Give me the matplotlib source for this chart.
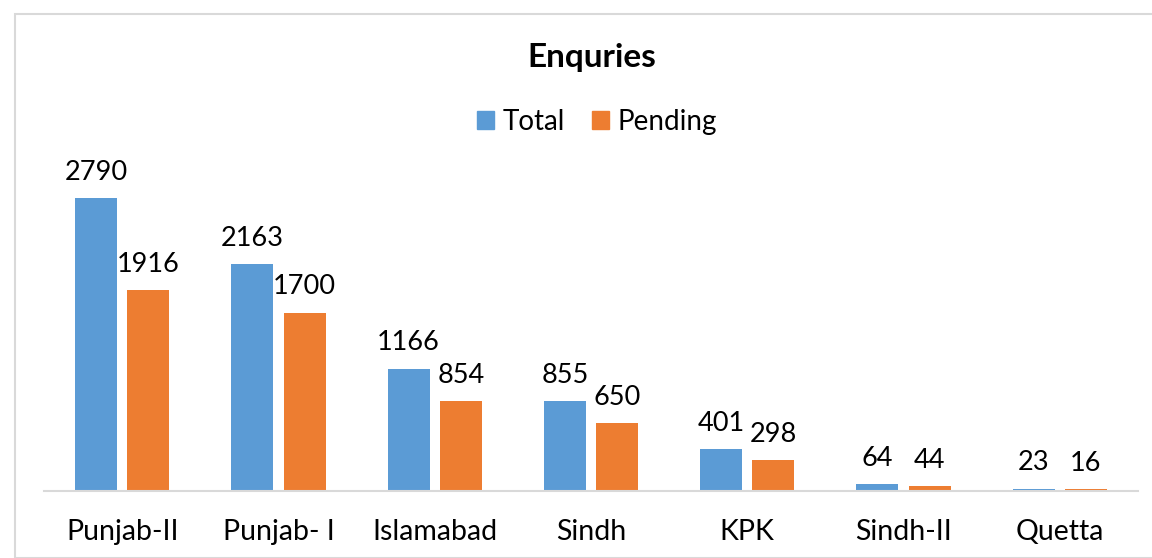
import matplotlib
matplotlib.use("Agg")
import matplotlib.pyplot as plt
from matplotlib.patches import Rectangle, Patch
import numpy as np

categories = ["Punjab-II", "Punjab- I", "Islamabad", "Sindh", "KPK", "Sindh-II", "Quetta"]
total = [2790, 2163, 1166, 855, 401, 64, 23]
pending = [1916, 1700, 854, 650, 298, 44, 16]

plt.rcParams['font.family'] = ['Lato', 'DejaVu Sans']

W, H = 1152, 558
fig = plt.figure(figsize=(W/100, H/100), dpi=100)

# chart border
fig.patches.append(Rectangle((15/W, 0), 1.2, 1 - 14/H, transform=fig.transFigure,
                             fill=False, edgecolor='#D9D9D9', linewidth=1.5))

ax = fig.add_axes([44/W, (H-491)/H, (1138-44)/W, (491-100)/H])
x = np.arange(len(categories))
bw = 0.269
off = 0.167
blue, orange = '#5B9BD5', '#ED7D31'
b1 = ax.bar(x - off, total, bw, color=blue, label='Total')
b2 = ax.bar(x + off, pending, bw, color=orange, label='Pending')
ax.set_xlim(-0.5, len(categories) - 0.5)
ax.set_ylim(0, 391/0.105)

for bars, vals in ((b1, total), (b2, pending)):
    for r, v in zip(bars, vals):
        ax.annotate(str(v), (r.get_x() + r.get_width()/2, v), xytext=(0, 9.5),
                    textcoords='offset points', ha='center', va='bottom', fontsize=19.5)

for s in ('top', 'right', 'left'):
    ax.spines[s].set_visible(False)
ax.spines['bottom'].set_color('#D9D9D9')
ax.spines['bottom'].set_linewidth(1.5)
ax.set_yticks([])
ax.set_xticks(x)
ax.set_xticklabels(categories, fontsize=20.5)
ax.tick_params(axis='x', length=0, pad=20)

fig.text((527+657)/2/W, 1 - 57/H, 'Enquries', ha='center', va='center',
         fontsize=24, fontweight='bold')
fig.legend(handles=[Patch(color=blue, label='Total'), Patch(color=orange, label='Pending')],
           loc='center', bbox_to_anchor=(597/W, 1 - 122/H), ncol=2, frameon=False,
           fontsize=20, handlelength=0.6, handleheight=0.6, handletextpad=0.3,
           columnspacing=1.0)

fig.savefig('out.png', dpi=100)
